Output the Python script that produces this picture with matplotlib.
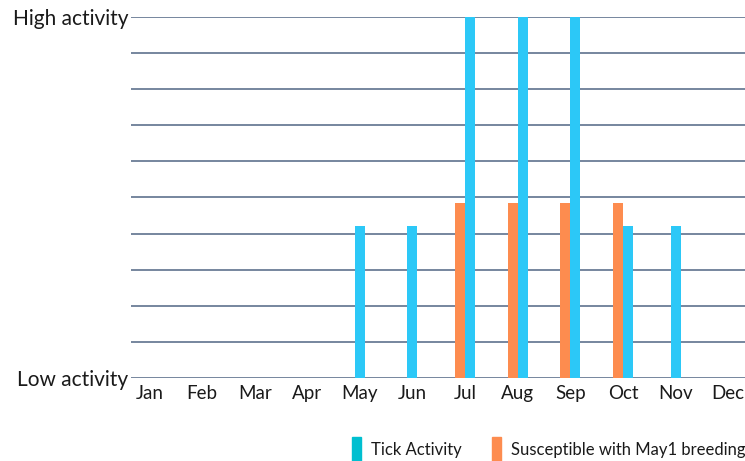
import numpy as np
import matplotlib
matplotlib.use("Agg")
import matplotlib.pyplot as plt
from matplotlib.patches import Patch

plt.rcParams['font.family'] = ['Lato', 'DejaVu Sans']
plt.rcParams['text.color'] = '#1a1a1a'

months = ["Jan", "Feb", "Mar", "Apr", "May", "Jun", "Jul", "Aug", "Sep", "Oct", "Nov", "Dec"]
# activity on a 0..10 scale (low -> high)
tick_activity = [0, 0, 0, 0, 4.2, 4.2, 10, 10, 10, 4.2, 4.2, 0]
susceptible = [0, 0, 0, 0, 0, 0, 4.85, 4.85, 4.85, 4.85, 0, 0]
series_names = ["Tick Activity", "Susceptible with May1 breeding"]

blue = '#2cc8f7'
blue_leg = '#00bfd0'
orange = '#fd8c4f'
grid_c = '#6b7d96'

fig = plt.figure(figsize=(7.45, 4.61), dpi=100)
ax = fig.add_axes([131/745, 1 - 378/461, 1 - 131/745, (378 - 17)/461])

x = np.arange(len(months))
w = 0.19
tick_arr = np.array(tick_activity)
sus_arr = np.array(susceptible)
# blue bar shifts right only where an orange bar sits beside it
off = np.where(sus_arr > 0, w/2, 0)
ax.bar(x + off, tick_arr, width=w, color=blue, zorder=3)
ax.bar(x[sus_arr > 0] - w/2, sus_arr[sus_arr > 0], width=w, color=orange, zorder=3)

ax.set_xlim(-0.35, 11.32)
ax.set_ylim(0, 10)
ax.set_yticks(range(11))
ax.set_yticklabels(["Low activity"] + [""]*9 + ["High activity"], fontsize=15)
ax.set_xticks(x)
ax.set_xticklabels(months, fontsize=13.5)
ax.tick_params(length=0, pad=2, labelcolor='#1a1a1a')
ax.tick_params(axis='x', pad=5)
ax.grid(axis='y', color=grid_c, lw=1.3)
ax.set_axisbelow(True)
for s in ax.spines.values():
    s.set_visible(False)

handles = [Patch(color=blue_leg), Patch(color=orange)]
fig.legend(handles, series_names, loc='lower right', bbox_to_anchor=(1.021, -0.035),
           ncol=2, frameon=False, fontsize=12, handlelength=0.55, handleheight=1.9,
           handletextpad=0.6, columnspacing=1.8)

fig.savefig("out.png", dpi=100)
